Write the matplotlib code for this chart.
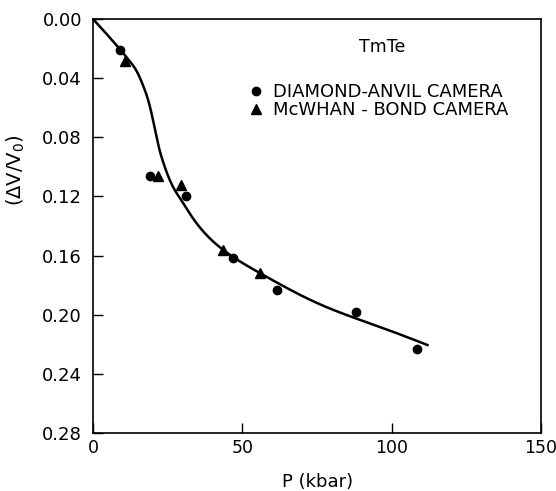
import numpy as np
import matplotlib
matplotlib.use("Agg")
import matplotlib.pyplot as plt

plt.rcParams['font.family'] = ['DejaVu Sans']

# Diamond-anvil camera measurements: pressure (kbar), volume change
diamond_p = [9.2, 19.0, 31.0, 46.9, 61.5, 88.2, 108.5]
diamond_dv = [0.021, 0.1063, 0.1194, 0.1618, 0.1834, 0.198, 0.2232]

# McWhan-bond camera measurements
mcwhan_p = [10.6, 21.8, 29.3, 43.5, 55.9]
mcwhan_dv = [0.0283, 0.1063, 0.1126, 0.1560, 0.1720]

# Guide curve through the data
curve_p = [0, 12.4, 14.7, 16.9, 18.6, 19.7, 20.8, 21.9, 23.6, 26.4, 29.8,
           32.6, 43.3, 55.6, 74.6, 98, 112]
curve_dv = [0, 0.0288, 0.0356, 0.0457, 0.0558, 0.0648, 0.0752, 0.0855,
            0.0975, 0.112, 0.1233, 0.1322, 0.1557, 0.1715, 0.1917, 0.2097,
            0.2205]

x_ticks = [0, 50, 100, 150]
y_ticks = [0.00, 0.04, 0.08, 0.12, 0.16, 0.20, 0.24, 0.28]


def natural_spline(x, y, xs):
    """Natural cubic spline used to draw the guide curve smoothly."""
    x = np.asarray(x, float)
    y = np.asarray(y, float)
    n = len(x)
    h = np.diff(x)
    A = np.zeros((n, n))
    r = np.zeros(n)
    A[0, 0] = A[-1, -1] = 1.0
    for i in range(1, n - 1):
        A[i, i - 1] = h[i - 1]
        A[i, i] = 2 * (h[i - 1] + h[i])
        A[i, i + 1] = h[i]
        r[i] = 6 * ((y[i + 1] - y[i]) / h[i] - (y[i] - y[i - 1]) / h[i - 1])
    M = np.linalg.solve(A, r)
    idx = np.clip(np.searchsorted(x, xs) - 1, 0, n - 2)
    hi = h[idx]
    a = x[idx + 1] - xs
    b = xs - x[idx]
    return (M[idx] * a**3 / (6 * hi) + M[idx + 1] * b**3 / (6 * hi)
            + (y[idx] / hi - M[idx] * hi / 6) * a
            + (y[idx + 1] / hi - M[idx + 1] * hi / 6) * b)


fig = plt.figure(figsize=(5.56, 4.91), dpi=100)
ax = fig.add_axes([0.1673, 0.1181, 0.8057, 0.8432])

xs = np.linspace(curve_p[0], curve_p[-1], 600)
ax.plot(xs, natural_spline(curve_p, curve_dv, xs), color='black', lw=1.8,
        zorder=2)

ax.plot(diamond_p, diamond_dv, 'o', color='black', ms=6, zorder=3,
        label='DIAMOND-ANVIL CAMERA')
ax.plot(mcwhan_p, mcwhan_dv, '^', color='black', ms=7, zorder=3,
        label='McWHAN - BOND CAMERA')

ax.set_xlim(0, 150)
ax.set_ylim(0.28, 0.00)
ax.set_xticks(x_ticks)
ax.set_yticks(y_ticks)
ax.set_yticklabels([f"{v:.2f}" for v in y_ticks])
ax.tick_params(direction='in', length=7, width=1.0, labelsize=13,
               top=False, right=False, colors='black')
ax.tick_params(axis='x', labelsize=12.5, pad=4)
ax.tick_params(axis='y', pad=8)
for s in ax.spines.values():
    s.set_linewidth(1.2)

ax.set_xlabel('P (kbar)', fontsize=13)
ax.xaxis.set_label_coords(0.502, -0.097)
ax.set_ylabel(r'($\Delta$V/V$_0$)', fontsize=14)
ax.yaxis.set_label_coords(-0.148, 0.635)

ax.text(0.645, 0.932, 'TmTe', transform=ax.transAxes, fontsize=12.5,
        ha='center', va='center')
ax.legend(loc='upper left', bbox_to_anchor=(0.348, 0.845), frameon=False,
          fontsize=13, handlelength=0.8, handletextpad=0.55, labelspacing=0.0,
          borderaxespad=0, borderpad=0, markerscale=1.0)

fig.savefig('out.png', dpi=100, facecolor='white')
